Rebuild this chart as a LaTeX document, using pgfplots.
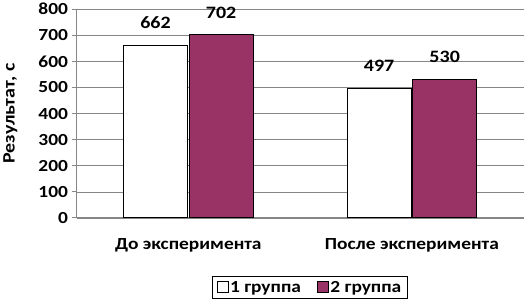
\documentclass[border=0pt]{standalone}
\usepackage{pgfplots}
\pgfplotsset{compat=1.18}
\usepackage{fontspec}
\setmainfont[FakeStretch=1.15]{Carlito}
\definecolor{maroon}{RGB}{153,51,102}
\definecolor{gridgray}{RGB}{134,134,134}
\begin{document}
\begin{tikzpicture}
\begin{axis}[
  scale only axis,
  width=450pt, height=210pt,
  xmin=-0.5, xmax=1.5,
  ymin=0, ymax=800,
  ytick={0,100,...,800},
  xtick={0,1},
  xticklabels={До эксперимента, После эксперимента},
  extra x ticks={-0.5,0.5,1.5},
  extra x tick labels={},
  extra x tick style={major tick length=5pt, tick style={gridgray, line width=0.8pt}, tick align=outside, grid=none},
  major x tick style={draw=none},
  axis x line*=bottom,
  axis y line*=left,
  axis line style={gridgray, line width=0.8pt},
  y axis line style={-},
  x axis line style={-},
  ymajorgrids,
  grid style={gridgray, line width=0.6pt},
  ytick style={gridgray, line width=0.8pt},
  tick align=outside,
  major tick length=5pt,
  ybar, bar width=64pt,
  ylabel={\bfseries Результат, с},
  ylabel style={font=\fontsize{17.5}{19}\selectfont, at={(axis description cs:-0.148,0.5)}, anchor=center},
  yticklabel style={font=\fontsize{17}{19}\selectfont\bfseries},
  xticklabel style={font=\fontsize{17}{19}\selectfont\bfseries, yshift=-12pt},
  /pgf/number format/assume math mode=true,
  nodes near coords,
  nodes near coords style={font=\fontsize{17.5}{19}\selectfont\bfseries, yshift=13pt, text=black},
  legend columns=2,
  legend style={at={(axis description cs:0.522,-0.333)}, anchor=center, draw=black, line width=0.6pt,
    font=\fontsize{17}{19}\selectfont\bfseries, inner xsep=4pt, inner ysep=3pt,
    /tikz/every even column/.append style={column sep=14pt}},
  legend image code/.code={\draw[#1, line width=0.6pt] (0pt,-5pt) rectangle (11pt,6pt);},
]
\addplot+[draw=black, fill=white, line width=0.8pt, bar width=64pt] coordinates {(0,662) (1,497)};
\addplot+[draw=black, fill=maroon, line width=0.8pt, bar width=64pt] coordinates {(0,702) (1,530)};
\legend{1 группа, 2 группа}
\end{axis}
\path[use as bounding box] (-77pt,-87pt) rectangle (450pt,217pt);
\end{tikzpicture}
\end{document}
